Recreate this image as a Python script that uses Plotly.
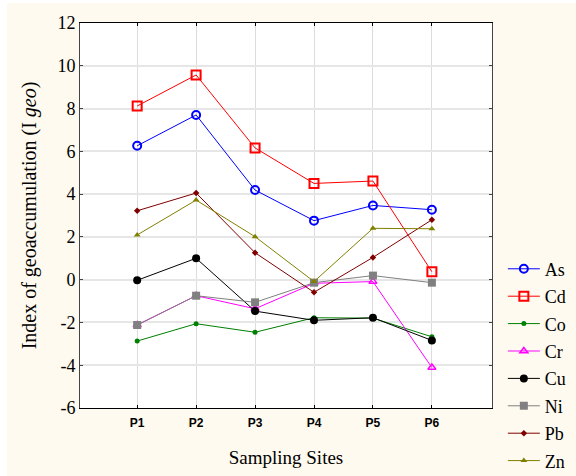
import plotly.graph_objects as go

sites = ["P1", "P2", "P3", "P4", "P5", "P6"]
site_pos = [1, 2, 3, 4, 5, 6]

As = [6.26, 7.70, 4.19, 2.76, 3.47, 3.27]
Cd = [8.12, 9.57, 6.16, 4.50, 4.61, 0.37]
Co = [-2.87, -2.06, -2.46, -1.78, -1.80, -2.67]
Cr = [-2.12, -0.75, -1.36, -0.17, -0.09, -4.11]
Cu = [-0.03, 1.00, -1.47, -1.90, -1.78, -2.84]
Ni = [-2.12, -0.75, -1.06, -0.14, 0.19, -0.14]
Pb = [3.22, 4.05, 1.26, -0.59, 1.04, 2.80]
Zn = [2.09, 3.72, 2.01, -0.09, 2.40, 2.38]

y_ticks = [-6, -4, -2, 0, 2, 4, 6, 8, 10, 12]
y_tick_text = ["-6", "-4", "-2", "0", "2", "4", "6", "8", "10", "12"]

series = [
    ("As", As, "#0000FF", "circle-open", 8, 2),
    ("Cd", Cd, "#FF0000", "square-open", 9, 2),
    ("Co", Co, "#008000", "circle", 5, 0),
    ("Cr", Cr, "#FF00FF", "triangle-up-open", 7, 1.5),
    ("Cu", Cu, "#000000", "circle", 8, 0),
    ("Ni", Ni, "#808080", "square", 8, 0),
    ("Pb", Pb, "#800000", "diamond", 5, 0),
    ("Zn", Zn, "#808000", "triangle-up", 6, 0),
]

fig = go.Figure()
for name, vals, color, sym, size, lw in series:
    fig.add_trace(go.Scatter(
        x=site_pos, y=vals, mode="lines+markers", name=name,
        line=dict(color=color, width=1),
        marker=dict(symbol=sym, size=size, color=color,
                    line=dict(color=color, width=lw)),
        legendgroup=name,
    ))

cream = "#FFFAEF"
fig.update_layout(
    width=576, height=476,
    margin=dict(l=80, r=84, t=23, b=68, autoexpand=False),
    paper_bgcolor=cream,
    plot_bgcolor="white",
    showlegend=True,
    legend=dict(xref="container", yref="container",
                x=0.873, xanchor="left", y=0.233, yanchor="middle",
                font=dict(family="Liberation Serif", size=18, color="black"),
                bgcolor="rgba(0,0,0,0)", tracegroupgap=1, itemwidth=32),
    xaxis=dict(
        range=[0.03, 7.02], tickvals=site_pos, ticktext=sites,
        tickfont=dict(family="Liberation Sans", size=12, color="black", weight="bold"),
        ticklabelstandoff=4,
        showgrid=True, gridcolor="#DCDCDC", gridwidth=1,
        showline=True, linecolor="black", linewidth=1, mirror="ticks",
        ticks="inside", ticklen=3, tickcolor="black",
        zeroline=False,
        title=dict(text="Sampling Sites", font=dict(family="Liberation Serif", size=19, color="black"), standoff=21),
    ),
    yaxis=dict(
        range=[-6, 12], tickvals=y_ticks, ticktext=y_tick_text,
        tickfont=dict(family="Liberation Serif", size=18, color="black"),
        showgrid=True, gridcolor="#E6E6E6", gridwidth=2,
        showline=True, linecolor="#444444", linewidth=1, mirror="ticks",
        ticks="inside", ticklen=3, tickcolor="#444444",
        zeroline=False,
        title=dict(text="Index of geoaccumulation (I <i>geo</i>)",
                   font=dict(family="Liberation Serif", size=20, color="black"), standoff=15),
    ),
    shapes=[
        dict(type="rect", xref="paper", yref="paper", x0=-0.3, x1=(7 - 80) / 412,
             y0=-0.3, y1=1.2, fillcolor="white", line=dict(width=0), layer="below"),
        dict(type="rect", xref="paper", yref="paper", x0=-0.3, x1=1.3,
             y0=(408 - 3) / 385, y1=1.2, fillcolor="white", line=dict(width=0), layer="below"),
    ],
)

fig.write_html("out.html", config={"displayModeBar": False},
               post_script="document.body.style.margin='0';document.body.style.padding='0';")
